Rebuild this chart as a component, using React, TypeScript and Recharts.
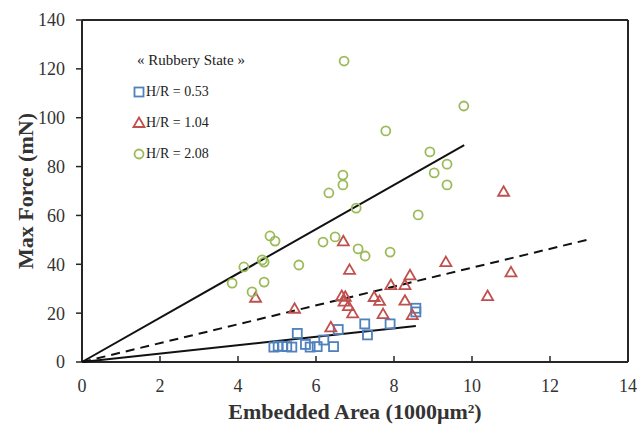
import { ScatterChart, Scatter, XAxis, YAxis, ReferenceLine, Legend } from "recharts";

const xTicks = [0, 2, 4, 6, 8, 10, 12, 14];
const yTicks = [0, 20, 40, 60, 80, 100, 120, 140];

// H/R = 0.53
const area053 = [4.92, 5.03, 5.14, 5.25, 5.38, 5.52, 5.73, 5.85, 6.03, 6.2, 6.45, 6.57, 7.25, 7.32, 7.9, 8.56, 8.56];
const force053 = [6.1, 6.5, 6.4, 6.3, 6.1, 11.7, 7.2, 6.1, 6.3, 9.0, 6.3, 13.3, 15.6, 11.1, 15.6, 22.0, 20.5];

// H/R = 1.04
const area104 = [4.45, 5.45, 6.38, 6.7, 6.86, 6.66, 6.75, 6.72, 6.83, 6.94, 7.49, 7.63, 7.72, 7.92, 8.28, 8.41, 8.28, 8.47, 9.33, 10.81, 11.0, 10.4];
const force104 = [26.3, 21.8, 14.2, 49.4, 37.7, 27.0, 26.7, 24.7, 22.9, 19.9, 26.6, 25.0, 19.6, 31.5, 31.5, 35.5, 25.1, 19.2, 40.9, 69.7, 36.7, 27.0];

// H/R = 2.08
const area208 = [3.85, 4.15, 4.36, 4.62, 4.67, 4.67, 4.82, 4.95, 5.56, 6.18, 6.33, 6.49, 6.69, 6.69, 6.72, 7.03, 7.08, 7.26, 7.79, 7.9, 8.62, 8.92, 9.03, 9.36, 9.36, 9.79];
const force208 = [32.3, 38.9, 28.7, 41.8, 40.9, 32.7, 51.6, 49.5, 39.7, 49.1, 69.2, 51.2, 72.5, 76.5, 123.2, 63.0, 46.3, 43.4, 94.6, 45.0, 60.2, 86.0, 77.4, 81.0, 72.5, 104.8];

// linear fits through origin
const fitArea053 = [0, 8.56];
const fitForce053 = [0, 14.7];
const fitArea104 = [0, 12.95];
const fitForce104 = [0, 50.0];
const fitArea208 = [0, 9.8];
const fitForce208 = [0, 88.8];

const BLUE = "#4f81bd";
const RED = "#c0504d";
const GREEN = "#9bbb59";
const AXIS = "#262626";
const FONT = '"Liberation Serif", "Times New Roman", serif';

const zip = (xs: number[], ys: number[]) => xs.map((x, i) => ({ x, y: ys[i] }));

const Square = (p: any) => (
  <rect x={p.cx - 4.5} y={p.cy - 4.5} width={9} height={9} fill="none" stroke={BLUE} strokeWidth={1.8} />
);
const Triangle = (p: any) => (
  <polygon
    points={`${p.cx},${p.cy - 5.5} ${p.cx + 5.5},${p.cy + 4} ${p.cx - 5.5},${p.cy + 4}`}
    fill="none" stroke={RED} strokeWidth={1.8} strokeLinejoin="miter"
  />
);
const Circle = (p: any) => (
  <circle cx={p.cx} cy={p.cy} r={4.5} fill="none" stroke={GREEN} strokeWidth={1.8} />
);
const NoDot = () => <g />;

const legendRows = [
  { name: "H/R = 0.53", Shape: Square },
  { name: "H/R = 1.04", Shape: Triangle },
  { name: "H/R = 2.08", Shape: Circle },
];

function LegendBox() {
  return (
    <div style={{ fontFamily: FONT, fontSize: 14, color: "#222" }}>
      <div style={{ height: 31, lineHeight: "31px", paddingLeft: 7, fontSize: 15 }}>« Rubbery State »</div>
      {legendRows.map(({ name, Shape }) => (
        <div key={name} style={{ height: 31, display: "flex", alignItems: "center" }}>
          <svg width={14} height={14} style={{ marginLeft: 2 }}>
            <Shape cx={7} cy={7} />
          </svg>
          <span>{name}</span>
        </div>
      ))}
    </div>
  );
}

export default function App() {
  return (
    <div style={{ position: "absolute", left: 0, top: 0, background: "#fff" }}>
      <ScatterChart width={639} height={427} margin={{ top: 20, right: 11, left: 0, bottom: 0 }}>
        <XAxis
          type="number" dataKey="x" domain={[0, 14]} ticks={xTicks} interval={0}
          height={65} tickSize={-6} tickMargin={23}
          axisLine={{ stroke: AXIS, strokeWidth: 2 }} tickLine={{ stroke: AXIS, strokeWidth: 1.5 }}
          tick={{ fill: "#333", fontSize: 18, fontFamily: FONT }}
          label={{ value: "Embedded Area (1000μm²)", position: "insideBottom", offset: 8, fill: "#333", fontSize: 22, fontWeight: "bold", fontFamily: FONT }}
        />
        <YAxis
          type="number" dataKey="y" domain={[0, 140]} ticks={yTicks} interval={0}
          width={82} tickSize={6} tickMargin={11}
          axisLine={{ stroke: AXIS, strokeWidth: 2 }} tickLine={{ stroke: AXIS, strokeWidth: 1.5 }}
          tick={{ fill: "#333", fontSize: 18, fontFamily: FONT }}
          label={{ value: "Max Force (mN)", angle: -90, position: "insideLeft", offset: 25, style: { textAnchor: "middle" }, fill: "#333", fontSize: 22, fontWeight: "bold", fontFamily: FONT }}
        />
        <ReferenceLine y={140} stroke={AXIS} strokeWidth={2} />
        <ReferenceLine x={14} stroke={AXIS} strokeWidth={2} />
        <Legend
          layout="vertical" align="center" verticalAlign="middle"
          content={() => <LegendBox />}
          wrapperStyle={{ position: "absolute", left: 130, top: 45, width: 150 }}
        />
        <Scatter name="fit 2.08" data={zip(fitArea208, fitForce208)} line={{ stroke: "#111", strokeWidth: 2 }} shape={NoDot} legendType="none" isAnimationActive={false} />
        <Scatter name="fit 1.04" data={zip(fitArea104, fitForce104)} line={{ stroke: "#111", strokeWidth: 2, strokeDasharray: "9 6" }} shape={NoDot} legendType="none" isAnimationActive={false} />
        <Scatter name="fit 0.53" data={zip(fitArea053, fitForce053)} line={{ stroke: "#111", strokeWidth: 2 }} shape={NoDot} legendType="none" isAnimationActive={false} />
        <Scatter name="H/R = 0.53" data={zip(area053, force053)} shape={Square} isAnimationActive={false} />
        <Scatter name="H/R = 1.04" data={zip(area104, force104)} shape={Triangle} isAnimationActive={false} />
        <Scatter name="H/R = 2.08" data={zip(area208, force208)} shape={Circle} isAnimationActive={false} />
      </ScatterChart>
    </div>
  );
}
